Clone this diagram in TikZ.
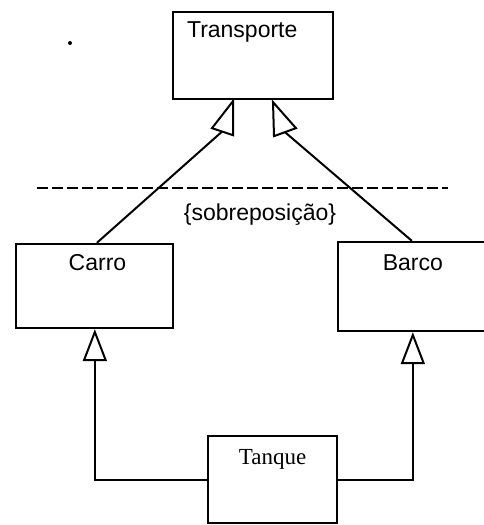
\documentclass[tikz,border=0pt]{standalone}
\usepackage{fontspec}
\setmainfont{Liberation Sans}
\newfontfamily\serifface{Liberation Serif}
\usetikzlibrary{arrows.meta,calc}
\begin{document}
\begin{tikzpicture}[x=1pt,y=-1pt,
  classbox/.style={draw,line width=2.3pt,rectangle,minimum width=#1,inner sep=0pt},
  conn/.style={line width=2pt},
  gen/.style={-{Triangle[open,length=32pt,width=24pt,line width=2pt]}},
  genhead/.style={draw,line width=2pt,fill=white,line join=miter},
  lbl/.style={inner sep=0pt,font=\fontsize{23}{27}\selectfont}]
\useasboundingbox (0,0) rectangle (484,525);
\clip (0,0) rectangle (484,525);

% classes
\node[classbox=160pt,minimum height=87pt] (transporte) at (253,55.5) {};
\node[classbox=157pt,minimum height=84pt] (carro) at (94.5,286) {};
\node[classbox=170pt,minimum height=89pt] (barco) at (423,286.5) {};
\node[classbox=129pt,minimum height=87pt] (tanque) at (272.5,479.5) {};

% class names
\node[lbl,anchor=base west] (tTransporte) at ($(transporte.north west)+(15,27)$) {Transporte};
\node[lbl,anchor=base] (tCarro) at ($(carro.north)+(3,28)$) {Carro};
\node[lbl,anchor=base] (tBarco) at ($(barco.north west)+(76,30)$) {Barco};
\node[lbl,anchor=base,font=\serifface\fontsize{23}{27}\selectfont] (tTanque) at ($(tanque.north)+(0,30)$) {Tanque};

% overlapping constraint
\coordinate (dashL) at (37,188);
\coordinate (dashR) at (448,188);
\draw[line width=2pt,dash pattern=on 11pt off 4pt] (dashL) -- (dashR);
\node[lbl,anchor=base] (sobre) at (260,220) {\{sobreposição\}};

% generalization Carro / Barco -> Transporte
\coordinate (baseL) at ($(transporte.south)+(-31,31.5)$);
\coordinate (baseR) at ($(transporte.south)+(32,32)$);
\draw[conn] ($(carro.north west)+(82,0)$) -- (baseL);
\draw[conn] ($(barco.north west)+(75,0)$) -- (baseR);
\draw[genhead] ($(transporte.south)+(-20,1)$) -- ($(transporte.south)+(-41,28)$)
  -- ($(transporte.south)+(-20,35)$) -- cycle;
\draw[genhead] ($(transporte.south)+(20,2)$) -- ($(transporte.south)+(43,28)$)
  -- ($(transporte.south)+(21,36)$) -- cycle;

% generalization Tanque -> Carro, Tanque -> Barco
\draw[conn,gen] (tanque.west) -| ($(carro.south west)+(80,0)$);
\draw[conn,gen] (tanque.east) -| ($(barco.south west)+(76,0)$);

% speck
\fill (70,43) circle (2pt);
\end{tikzpicture}
\end{document}
